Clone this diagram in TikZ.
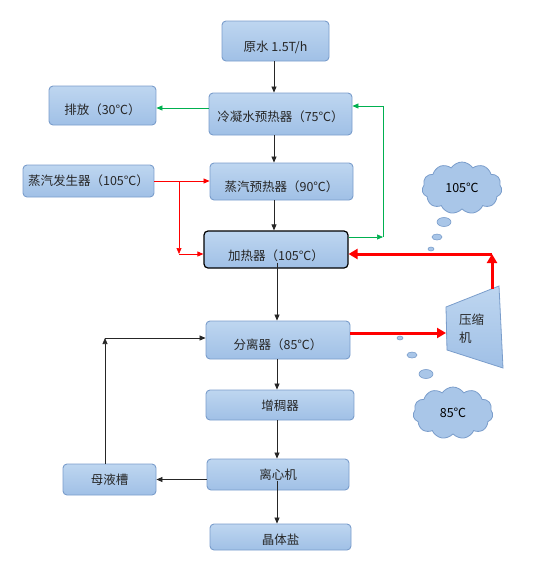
\documentclass[tikz,border=0pt]{standalone}
\usepackage{fontspec}
\setmainfont{Noto Sans CJK SC}
\usetikzlibrary{arrows.meta,shapes.symbols}
\definecolor{boxtop}{HTML}{BED6F0}
\definecolor{boxbot}{HTML}{A0C0E6}
\definecolor{boxline}{HTML}{7A9DCB}
\definecolor{cloudfill}{HTML}{A9C6E8}
\definecolor{gline}{HTML}{00B050}
\definecolor{rline}{HTML}{FF0000}
\tikzset{
 box/.style={draw=boxline, line width=0.9pt, rounded corners=4pt, top color=boxtop, bottom color=boxbot,
   inner sep=0pt, font=\fontsize{12.5}{14}\selectfont, text=black!85},
 txtdrop/.style={text height=#1, text depth=1pt},
 cloudy/.style={cloud, cloud puffs=11, cloud puff arc=115, aspect=1.5, draw=boxline, fill=cloudfill,
   line width=0.8pt, minimum width=80pt, minimum height=52pt, inner sep=0pt, font=\fontsize{12.5}{14}\selectfont},
 bubble/.style={draw=boxline, fill=cloudfill, line width=0.6pt},
 arr/.style={-{Triangle[length=6pt,width=5pt]}, color=black!85, line width=0.7pt},
 garr/.style={arr, color=gline},
 rarr/.style={arr, color=rline},
 bigarr/.style={-{Triangle[length=9pt,width=10pt]}, color=rline, line width=3pt}
}
\begin{document}
\begin{tikzpicture}[x=1pt,y=-1pt]
 \useasboundingbox (0,0) rectangle (554,574);

 \node[box, minimum width=107pt, minimum height=40pt, txtdrop=22pt] (yuanshui) at (275.5,41) {原水 1.5T/h};
 \node[box, minimum width=107pt, minimum height=39pt, txtdrop=19pt] (paifang)  at (102.5,105.5) {排放（30℃）};
 \node[box, minimum width=143pt, minimum height=42pt, txtdrop=16pt] (lengning) at (280.5,114) {冷凝水预热器（75℃）};
 \node[box, minimum width=131pt, minimum height=32pt]               (fasheng)  at (88.5,181) {蒸汽发生器（105℃）};
 \node[box, minimum width=143pt, minimum height=37pt, txtdrop=21pt] (yure)     at (281.5,181.5) {蒸汽预热器（90℃）};
 \node[box, draw=black, line width=1.2pt, minimum width=144pt, minimum height=37pt, txtdrop=23pt] (jiare) at (276,249.5) {加热器（105℃）};
 \node[box, minimum width=144pt, minimum height=38pt, txtdrop=20pt] (fenli)    at (278,340) {分离器（85℃）};
 \node[box, minimum width=148pt, minimum height=30pt, txtdrop=12pt] (zengchou) at (280,405) {增稠器};
 \node[box, minimum width=142pt, minimum height=31pt]               (lixin)    at (278,474.5) {离心机};
 \node[box, minimum width=93pt,  minimum height=31pt]               (muye)     at (109.5,479.5) {母液槽};
 \node[box, minimum width=141pt, minimum height=26pt, txtdrop=16pt] (jingti)   at (280.5,537) {晶体盐};

 % compressor
 \path[draw=boxline, line width=0.8pt, top color=boxtop, bottom color=boxbot]
   (446,307) -- (499,286) -- (503,368) -- (447,350) -- cycle;
 \node[anchor=west, align=left, inner sep=0pt, font=\fontsize{12.5}{18}\selectfont, text=black!85] (yasuo) at (459,329) {压缩\\机};

 % clouds
 \node[cloudy] (c105) at (462,188) {105℃};
 \node[cloudy] (c85)  at (453,413) {85℃};
 \filldraw[bubble] (444,222) ellipse (7 and 4.5);
 \filldraw[bubble] (437,237) ellipse (5 and 3);
 \filldraw[bubble] (431,249) ellipse (3 and 2);
 \filldraw[bubble] (400,338) ellipse (3 and 2);
 \filldraw[bubble] (412,355) ellipse (5 and 3);
 \filldraw[bubble] (426,374) ellipse (7 and 4.5);

 \coordinate (colA) at (274,0);
 \coordinate (colB) at (277,0);
 \coordinate (gcorner) at (383,237);
 \coordinate (gtop) at (383,106);
 \coordinate (rsplit) at (179,181);
 \coordinate (rcorner) at (179,254);
 \coordinate (cin) at (446,333);
 \coordinate (cout) at (492,289);
 \coordinate (cbend) at (492,254);
 \coordinate (mcorner) at (105,338);

 \draw[arr] (yuanshui.south -| colA) -- (lengning.north -| colA);
 \draw[arr] (lengning.south -| colA) -- (yure.north -| colA);
 \draw[arr] (yure.south -| colA) -- (jiare.north -| colA);
 \draw[arr] ([yshift=-13pt]jiare.center -| colB) -- (fenli.north -| colB);
 \draw[arr] (fenli.south -| colB) -- (zengchou.north -| colB);
 \draw[arr] (zengchou.south -| colB) -- (lixin.north -| colB);
 \draw[arr] ([yshift=-6pt]lixin.center -| colB) -- (jingti.north -| colB);
 \draw[arr] (lixin.west |- muye.east) -- (muye.east);
 \draw[arr] (muye.north -| mcorner) -- (mcorner);
 \draw[arr] (mcorner) -- (mcorner -| fenli.west);

 \draw[garr] ([yshift=6pt]lengning.west) -- ([yshift=6pt]lengning.west -| paifang.east);
 \draw[garr] (jiare.east |- gcorner) -- (gcorner);
 \draw[garr] (gcorner) -- (gtop) -- (gtop -| lengning.east);

 \draw[rarr] (fasheng.east) -- (fasheng.east -| yure.west);
 \draw[rarr] (rsplit) -- (rcorner);
 \draw[rarr] (rcorner) -- (rcorner -| jiare.west);

 \draw[bigarr] (fenli.east |- cin) -- (cin);
 \draw[bigarr] (cout) -- (cbend);
 \draw[bigarr] (cbend) -- (cbend -| jiare.east);
\end{tikzpicture}
\end{document}
